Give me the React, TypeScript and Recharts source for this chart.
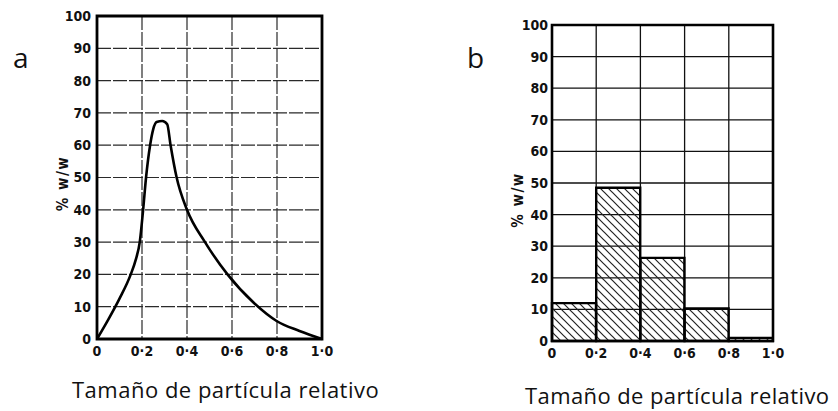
import React from "react"
import {
  Bar,
  BarChart,
  CartesianGrid,
  Line,
  LineChart,
  ReferenceArea,
  XAxis,
  YAxis,
} from "recharts"

// panel a: continuous distribution curve
const curveSize = [0, 0.05, 0.1, 0.15, 0.172, 0.19, 0.205, 0.218, 0.236, 0.25, 0.265, 0.29, 0.312, 0.327, 0.354, 0.4, 0.48, 0.58, 0.7, 0.8, 0.9, 1.0]
const curvePct = [0, 6, 12.5, 20, 24.5, 30, 40, 50, 60, 65, 67.2, 67.5, 66.5, 60, 50, 40, 30, 20, 11, 5.5, 2.5, 0]

// panel b: histogram bins (start of each 0.2-wide bin)
const binStart = [0, 0.2, 0.4, 0.6, 0.8]
const binPct = [12, 48.5, 26.3, 10.3, 1]
const binWidth = 0.2

const xTicks = [0, 0.2, 0.4, 0.6, 0.8, 1.0]
const yTicks = [0, 10, 20, 30, 40, 50, 60, 70, 80, 90, 100]

const curveRows = curveSize.map((s, i) => ({ size: s, pct: curvePct[i] }))
const binRows = binStart.map((s, i) => ({ mid: s + binWidth / 2, pct: binPct[i] }))

const tickStyle = {
  fontSize: 14,
  fontFamily: "'DejaVu Sans Condensed', 'DejaVu Sans', sans-serif",
  fontWeight: 700,
  fill: "#111",
}

const fmtX = (v: number) => (v === 0 ? "0" : v.toFixed(1).replace(".", "·"))

const yLabel = (dy: number) => ({ viewBox }: any) => {
  const x = viewBox.x + viewBox.width - 34
  const y = viewBox.y + viewBox.height / 2 + dy
  return (
    <text
      x={x}
      y={y}
      transform={`rotate(-90, ${x}, ${y})`}
      textAnchor="middle"
      dominantBaseline="central"
      style={{ ...tickStyle, fontSize: 15, letterSpacing: 1.5 }}
    >
      % w/w
    </text>
  )
}

const textFont = "'Open Sans', sans-serif"

function Caption({ left, top, size, spacing = 0, children }: { left: number; top: number; size: number; spacing?: number; children: React.ReactNode }) {
  return (
    <div
      style={{
        position: "absolute",
        left,
        top,
        fontFamily: textFont,
        fontSize: size,
        letterSpacing: spacing,
        lineHeight: 1,
        color: "#111",
        whiteSpace: "nowrap",
      }}
    >
      {children}
    </div>
  )
}

export default function App() {
  return (
    <div style={{ position: "absolute", left: 0, top: 0, width: 838, height: 411, background: "#fff", overflow: "hidden" }}>
      <div style={{ position: "absolute", left: 0, top: 0 }}>
        <LineChart width={420} height={411} data={curveRows} margin={{ top: 16, right: 98, bottom: 42, left: 37 }}>
          <CartesianGrid stroke="#2a2a2a" strokeWidth={1.2} strokeDasharray="14 2" />
          <XAxis
            dataKey="size"
            type="number"
            domain={[0, 1]}
            ticks={xTicks}
            tickFormatter={fmtX}
            tick={tickStyle}
            axisLine={false}
            tickLine={false}
            tickSize={0}
            tickMargin={7}
            height={30}
          />
          <YAxis
            type="number"
            domain={[0, 100]}
            ticks={yTicks}
            tick={tickStyle}
            axisLine={false}
            tickLine={false}
            tickSize={0}
            tickMargin={6}
            width={60}
            label={yLabel(6)}
          />
          <ReferenceArea x1={0} x2={1} y1={0} y2={100} fill="none" stroke="#000" strokeWidth={2.8} fillOpacity={0} />
          <Line
            type="monotone"
            dataKey="pct"
            stroke="#000"
            strokeWidth={2.6}
            dot={false}
            isAnimationActive={false}
          />
        </LineChart>
      </div>

      <div style={{ position: "absolute", left: 420, top: 0 }}>
        <BarChart
          width={418}
          height={411}
          data={binRows}
          margin={{ top: 25, right: 65, bottom: 40, left: 72 }}
          barCategoryGap={0}
          barGap={0}
        >
          <defs>
            <pattern id="hatch" width="8" height="8" patternUnits="userSpaceOnUse">
              <path d="M-2,-2 L10,10 M-2,6 L2,10 M6,-2 L10,2" stroke="#222" strokeWidth={1.2} />
            </pattern>
          </defs>
          <CartesianGrid stroke="#111" strokeWidth={1.3} />
          <XAxis
            dataKey="mid"
            type="number"
            domain={[0, 1]}
            ticks={xTicks}
            tickFormatter={fmtX}
            tick={tickStyle}
            axisLine={false}
            tickLine={false}
            tickSize={0}
            tickMargin={7}
            height={30}
          />
          <YAxis
            type="number"
            domain={[0, 100]}
            ticks={yTicks}
            tick={tickStyle}
            axisLine={false}
            tickLine={false}
            tickSize={0}
            tickMargin={4}
            width={60}
            label={yLabel(17)}
          />
          <Bar
            dataKey="pct"
            fill="url(#hatch)"
            stroke="#000"
            strokeWidth={2.4}
            isAnimationActive={false}
          />
          <ReferenceArea x1={0} x2={1} y1={0} y2={100} fill="none" stroke="#000" strokeWidth={2.6} fillOpacity={0} />
        </BarChart>
      </div>

      <Caption left={13} top={43} size={28}>a</Caption>
      <Caption left={467} top={43} size={28}>b</Caption>
      <Caption left={72} top={378} size={22} spacing={0.5}>Tamaño de partícula relativo</Caption>
      <Caption left={525} top={384} size={22} spacing={0.4}>Tamaño de partícula relativo</Caption>
    </div>
  )
}
